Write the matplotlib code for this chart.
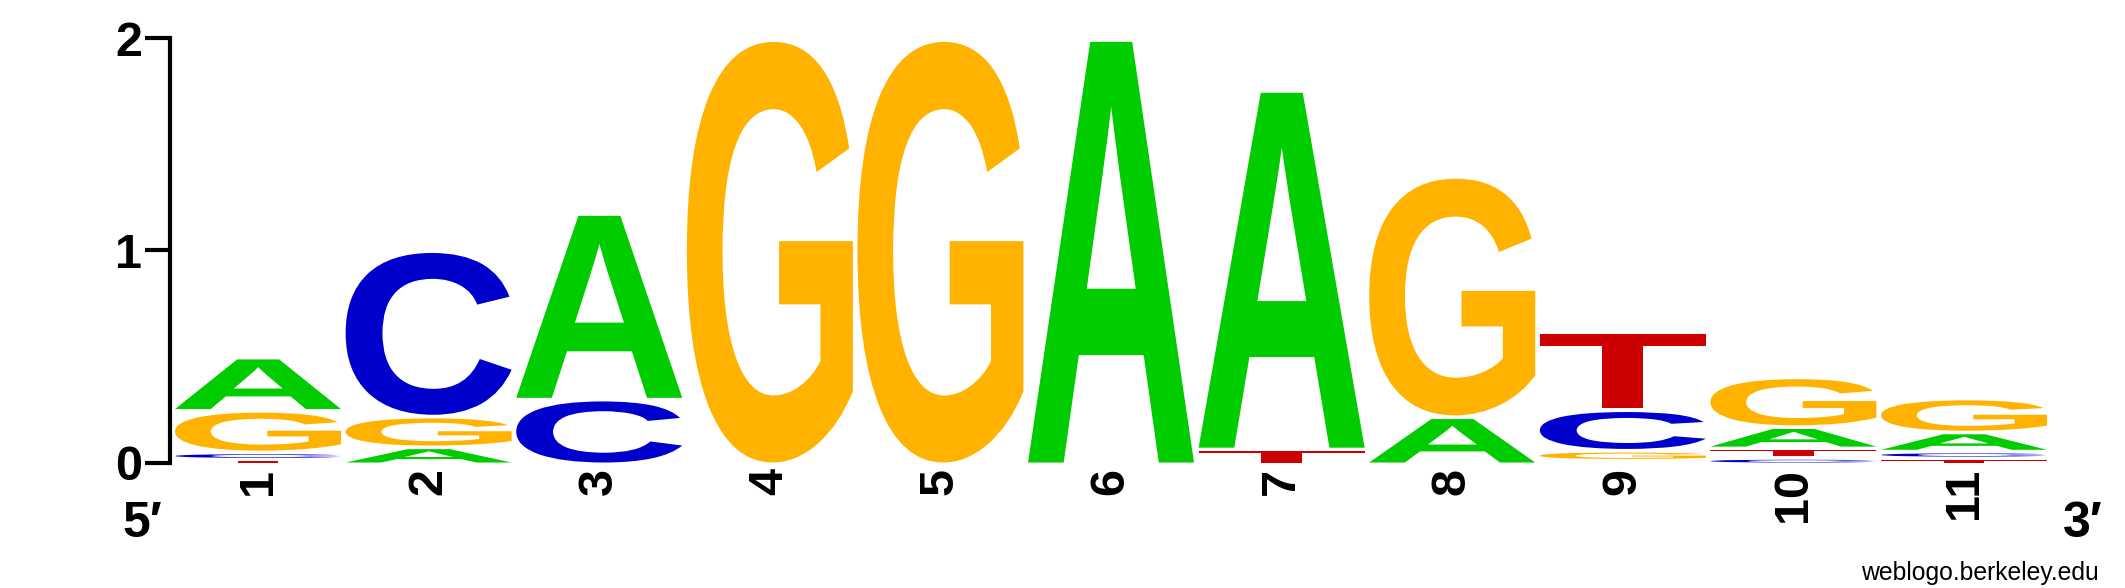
import matplotlib
matplotlib.use('Agg')
import matplotlib.pyplot as plt
from matplotlib.textpath import TextPath
from matplotlib.patches import PathPatch
from matplotlib.font_manager import FontProperties
from matplotlib.transforms import Affine2D

# stack heights per position (bits)
positions = list(range(1, 12))
letters = ['A', 'C', 'G', 'T']
height_A = [0.251, 0.080, 0.875, 0.0, 0.0, 2.000, 1.690, 0.222, 0.017, 0.100, 0.090]
height_C = [0.034, 0.780, 0.305, 0.0, 0.0, 0.0, 0.0, 0.0, 0.191, 0.030, 0.032]
height_G = [0.196, 0.145, 0.0, 2.000, 2.000, 0.0, 0.0, 1.133, 0.047, 0.235, 0.160]
height_T = [0.022, 0.0, 0.0, 0.0, 0.0, 0.0, 0.070, 0.0, 0.367, 0.045, 0.028]
y_ticks = [0, 1, 2]

colors = {'A': '#00cc00', 'C': '#0000cc', 'G': '#ffb300', 'T': '#cc0000'}
heights = {'A': height_A, 'C': height_C, 'G': height_G, 'T': height_T}

GAP = 0.017      # blank space left above each glyph inside its slot
WIDTH = 0.973    # glyph width in position units
glyph_font = FontProperties(family='Liberation Sans', weight='bold')

glyph_paths = {}
for ch in letters:
    p = TextPath((0, 0), ch, size=1, prop=glyph_font)
    glyph_paths[ch] = (p, p.get_extents())


def draw_glyph(ax, ch, x0, x1, y0, y1):
    path, ext = glyph_paths[ch]
    tr = (Affine2D()
          .translate(-ext.x0, -ext.y0)
          .scale((x1 - x0) / ext.width, (y1 - y0) / ext.height)
          .translate(x0, y0))
    patch = PathPatch(tr.transform_path(path), facecolor=colors[ch],
                      edgecolor='none', clip_on=False)
    ax.add_patch(patch)


fig = plt.figure(figsize=(21.25, 5.88), dpi=100)
ax = fig.add_axes([0.08, 0.2134, 0.886, 0.7215])

for i, pos in enumerate(positions):
    stack = sorted(letters, key=lambda c: heights[c][i])
    bottom = 0.0
    for ch in stack:
        h = heights[ch][i]
        if h <= 0:
            continue
        ink = h - GAP
        if ink > 0.002:
            ink = max(ink, 0.006)
            draw_glyph(ax, ch, pos - WIDTH / 2, pos + WIDTH / 2, bottom, bottom + ink)
        bottom += h

ax.set_xlim(0.484, 11.52)
ax.set_ylim(0, 2)
for side in ['top', 'right', 'bottom']:
    ax.spines[side].set_visible(False)
ax.spines['left'].set_linewidth(3)
ax.spines['left'].set_bounds(0, 2)

ax.set_yticks(y_ticks)
ax.set_yticklabels([str(t) for t in y_ticks], fontsize=35, fontweight='bold',
                   family='Liberation Sans')
ax.tick_params(axis='y', direction='out', length=18, width=3, pad=2)

ax.set_xticks(positions)
ax.set_xticklabels([str(p) for p in positions], rotation=90, fontsize=35,
                   fontweight='bold', family='Liberation Sans', va='top')
ax.tick_params(axis='x', length=0, pad=4)

fig.text(142 / 2125, 1 - 524 / 588, '5\u2032', fontsize=36, fontweight='bold',
         family=['Liberation Sans', 'DejaVu Sans'], ha='center', va='center')
fig.text(2083 / 2125, 1 - 524 / 588, '3\u2032', fontsize=36, fontweight='bold',
         family=['Liberation Sans', 'DejaVu Sans'], ha='center', va='center')
fig.text(2099 / 2125, 1 - 573 / 588, 'weblogo.berkeley.edu', fontsize=17.8,
         family='Liberation Sans', ha='right', va='center')

fig.savefig('out.png', dpi=100)
